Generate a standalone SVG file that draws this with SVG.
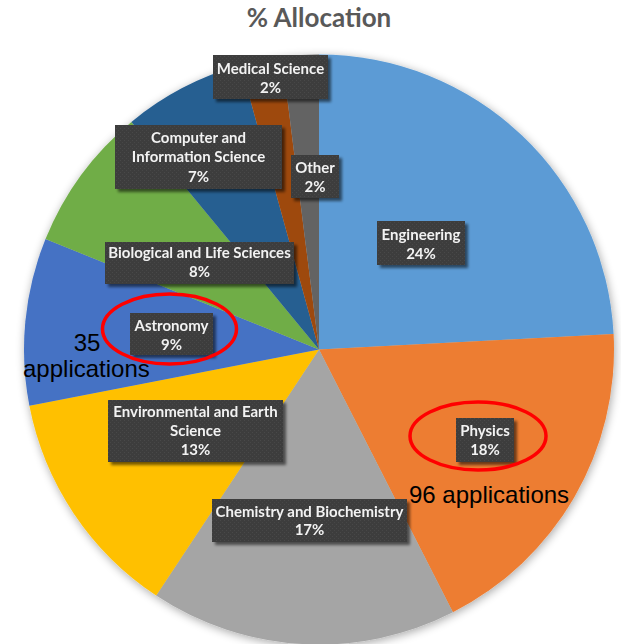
<svg xmlns="http://www.w3.org/2000/svg" width="621" height="644" viewBox="0 0 621 644">
  <defs>
    <filter id="pieShadow" x="-10%" y="-10%" width="120%" height="120%">
      <feGaussianBlur in="SourceAlpha" stdDeviation="5"/>
      <feOffset dx="1" dy="2" result="b"/>
      <feComponentTransfer><feFuncA type="linear" slope="0.35"/></feComponentTransfer>
      <feMerge><feMergeNode/><feMergeNode in="SourceGraphic"/></feMerge>
    </filter>
    <filter id="boxShadow" x="-10%" y="-20%" width="125%" height="150%">
      <feGaussianBlur in="SourceAlpha" stdDeviation="1.5"/>
      <feOffset dx="3" dy="3"/>
      <feComponentTransfer><feFuncA type="linear" slope="0.55"/></feComponentTransfer>
      <feMerge><feMergeNode/><feMergeNode in="SourceGraphic"/></feMerge>
    </filter>
    <pattern id="dots" width="4" height="4" patternUnits="userSpaceOnUse">
      <rect width="4" height="4" fill="#3d3d3d"/>
      <rect x="0" y="0" width="1" height="1" fill="#4a4a4a"/>
      <rect x="2" y="2" width="1" height="1" fill="#474747"/>
    </pattern>
  </defs>
  <style>
    .title { font-family: Lato, "Open Sans", sans-serif; font-weight: 700; font-size: 26px; fill: #595959; }
    .box { fill: url(#dots); }
    .lbl { font-family: Lato, "Open Sans", sans-serif; font-weight: 700; font-size: 15px; fill: #f2f2f2; text-anchor: middle; }
    .ring { fill: none; stroke: #ff0000; stroke-width: 3.5; }
    .note { font-family: "Liberation Sans", Arial, sans-serif; font-size: 24px; fill: #000000; }
  </style>

  <rect width="621" height="644" fill="#ffffff"/>

  <text class="title" x="319" y="27" text-anchor="middle">% Allocation</text>

  <!-- pie slices, clockwise from 12 o'clock; centre (319,349.5), r 295 -->
  <g id="pie" filter="url(#pieShadow)">
    <path id="slice-engineering" d="M319,349.5 L319,54.5 A295,295 0 0 1 613.6,334.1 Z" fill="#5b9bd5"/>
    <path id="slice-physics" d="M319,349.5 L613.6,334.1 A295,295 0 0 1 452.9,612.3 Z" fill="#ed7d31"/>
    <path id="slice-chemistry" d="M319,349.5 L452.9,612.3 A295,295 0 0 1 156.2,595.5 Z" fill="#a5a5a5"/>
    <path id="slice-environmental" d="M319,349.5 L156.2,595.5 A295,295 0 0 1 29.4,405.8 Z" fill="#ffc000"/>
    <path id="slice-astronomy" d="M319,349.5 L29.4,405.8 A295,295 0 0 1 45.5,239.0 Z" fill="#4472c4"/>
    <path id="slice-biological" d="M319,349.5 L45.5,239.0 A295,295 0 0 1 131.4,121.9 Z" fill="#70ad47"/>
    <path id="slice-computer" d="M319,349.5 L131.4,121.9 A295,295 0 0 1 240.7,65.1 Z" fill="#255e91"/>
    <path id="slice-medical" d="M319,349.5 L240.7,65.1 A295,295 0 0 1 282.0,56.8 Z" fill="#9e480e"/>
    <path id="slice-other" d="M319,349.5 L282.0,56.8 A295,295 0 0 1 319,54.5 Z" fill="#636363"/>
  </g>

  <!-- data labels -->
  <g id="label-medical" filter="url(#boxShadow)">
    <rect class="box" x="213" y="55" width="115" height="44"/>
    <text class="lbl" x="270.5" y="74">Medical Science</text>
    <text class="lbl" x="270.5" y="93">2%</text>
  </g>
  <g id="label-computer" filter="url(#boxShadow)">
    <rect class="box" x="115" y="125" width="167" height="64"/>
    <text class="lbl" x="198.5" y="143">Computer and</text>
    <text class="lbl" x="198.5" y="162">Information Science</text>
    <text class="lbl" x="198.5" y="182">7%</text>
  </g>
  <g id="label-other" filter="url(#boxShadow)">
    <rect class="box" x="291" y="155" width="48" height="43"/>
    <text class="lbl" x="315" y="173">Other</text>
    <text class="lbl" x="315" y="192">2%</text>
  </g>
  <g id="label-engineering" filter="url(#boxShadow)">
    <rect class="box" x="377" y="221" width="88" height="44"/>
    <text class="lbl" x="421" y="240">Engineering</text>
    <text class="lbl" x="421" y="259">24%</text>
  </g>
  <g id="label-biological" filter="url(#boxShadow)">
    <rect class="box" x="105" y="242" width="189" height="42"/>
    <text class="lbl" x="199.5" y="258">Biological and Life Sciences</text>
    <text class="lbl" x="199.5" y="277">8%</text>
  </g>
  <g id="label-astronomy" filter="url(#boxShadow)">
    <rect class="box" x="130" y="313" width="83" height="42"/>
    <text class="lbl" x="171.5" y="331">Astronomy</text>
    <text class="lbl" x="171.5" y="350">9%</text>
  </g>
  <g id="label-environmental" filter="url(#boxShadow)">
    <rect class="box" x="108" y="400" width="175" height="62"/>
    <text class="lbl" x="195.5" y="417">Environmental and Earth</text>
    <text class="lbl" x="195.5" y="436">Science</text>
    <text class="lbl" x="195.5" y="455">13%</text>
  </g>
  <g id="label-physics" filter="url(#boxShadow)">
    <rect class="box" x="456" y="418" width="58" height="44"/>
    <text class="lbl" x="485" y="436">Physics</text>
    <text class="lbl" x="485" y="455">18%</text>
  </g>
  <g id="label-chemistry" filter="url(#boxShadow)">
    <rect class="box" x="212" y="499" width="195" height="43"/>
    <text class="lbl" x="309.5" y="517">Chemistry and Biochemistry</text>
    <text class="lbl" x="309.5" y="535">17%</text>
  </g>

  <!-- highlight rings and application counts -->
  <g id="highlights">
    <ellipse class="ring" cx="169.5" cy="329" rx="67" ry="35"/>
    <ellipse class="ring" cx="478" cy="436" rx="68" ry="34"/>
  </g>
  <g id="notes">
    <text class="note" x="87" y="351" text-anchor="middle">35</text>
    <text class="note" x="23" y="377">applications</text>
    <text class="note" x="409" y="503">96 applications</text>
  </g>
</svg>
